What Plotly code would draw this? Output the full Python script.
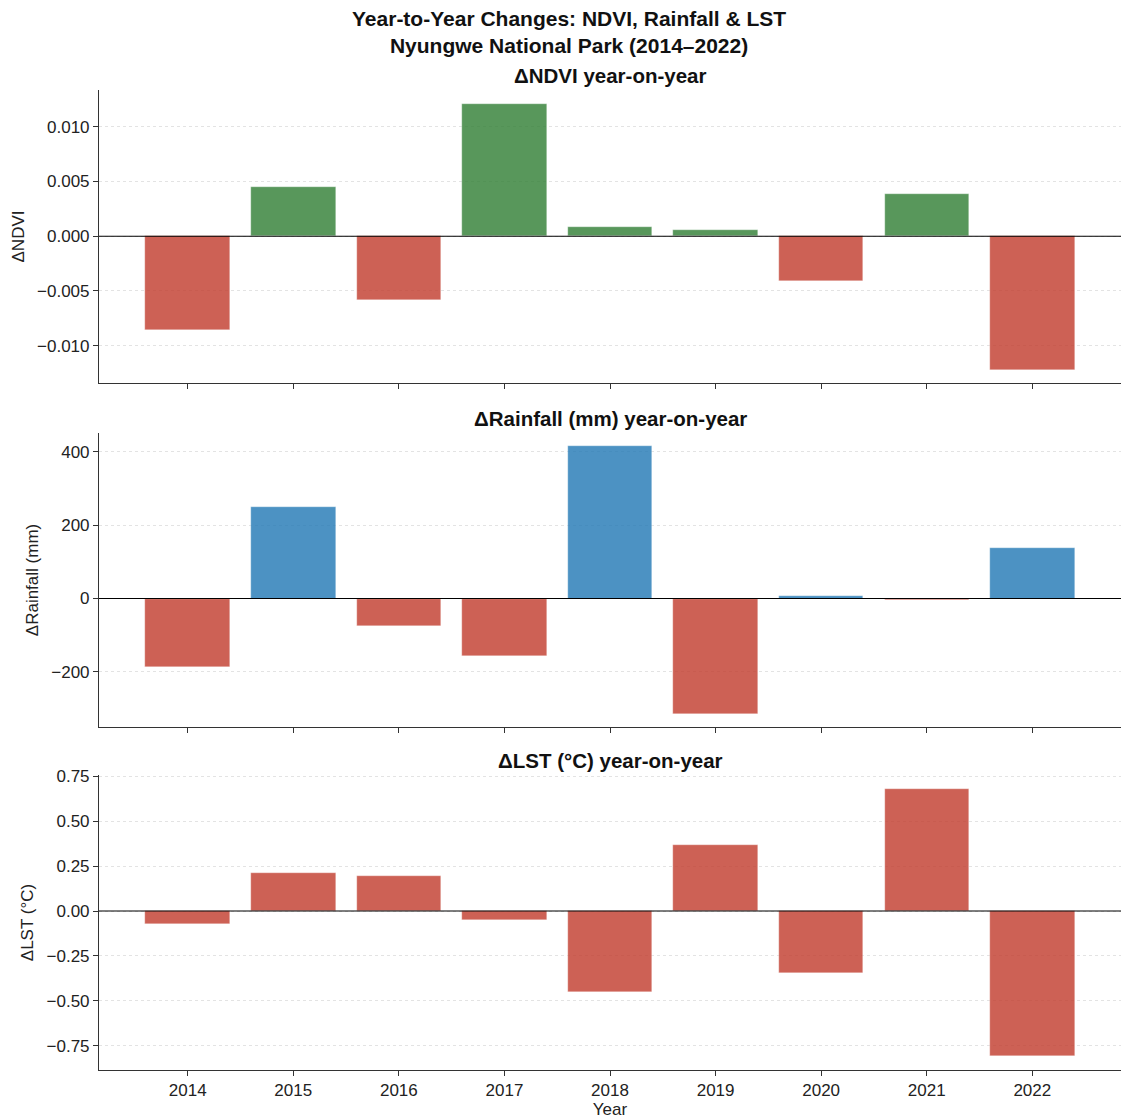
import plotly.graph_objects as go
from plotly.subplots import make_subplots

# Year-on-year differences for Nyungwe National Park
years = [2014, 2015, 2016, 2017, 2018, 2019, 2020, 2021, 2022]
d_ndvi = [-0.0086, 0.0045, -0.0058, 0.0121, 0.0008, 0.0006, -0.0041, 0.0039, -0.0122]
d_rain = [-186, 250, -76, -156, 415, -314, 8, -4, 137]
d_lst = [-0.072, 0.211, 0.194, -0.050, -0.450, 0.367, -0.344, 0.678, -0.807]

ndvi_ticks = [-0.010, -0.005, 0.0, 0.005, 0.010]
rain_ticks = [-200, 0, 200, 400]
lst_ticks = [-0.75, -0.50, -0.25, 0.0, 0.25, 0.50, 0.75]

RED = "rgba(192,57,43,0.8)"
GREEN = "rgba(46,125,50,0.8)"
BLUE = "rgba(31,119,180,0.8)"

FONT = "Liberation Sans, Arial, Helvetica, sans-serif"


def fmt(v, spec):
    s = format(v, spec)
    if s.startswith("-"):
        s = "\u2212" + s[1:]
    if s in ("\u22120.000", "\u22120.00", "\u22120"):
        s = s[1:]
    return s


ndvi_colors = [GREEN if v >= 0 else RED for v in d_ndvi]
rain_colors = [BLUE if v >= 0 else RED for v in d_rain]
lst_colors = [RED for v in d_lst]

fig = make_subplots(rows=3, cols=1, shared_xaxes=False, vertical_spacing=0.05)

for row, vals, cols in [(1, d_ndvi, ndvi_colors), (2, d_rain, rain_colors), (3, d_lst, lst_colors)]:
    fig.add_trace(
        go.Bar(
            x=years, y=vals, width=0.8,
            marker=dict(color=cols, line=dict(color="rgba(255,255,255,0.6)", width=0.5)),
            showlegend=False, hoverinfo="x+y",
        ),
        row=row, col=1,
    )

# panel placement (paper coordinates)
domains = {1: [0.701, 1.0], 2: [0.35, 0.65], 3: [0.0, 0.301]}
yranges = {1: [-0.01342, 0.01336], 2: [-350.5, 451.5], 3: [-0.885, 0.757]}
ytitles = {1: "ΔNDVI", 2: "ΔRainfall (mm)", 3: "ΔLST (°C)"}
yticks = {1: (ndvi_ticks, ".3f"), 2: (rain_ticks, "d"), 3: (lst_ticks, ".2f")}
subtitles = {1: "ΔNDVI year-on-year", 2: "ΔRainfall (mm) year-on-year", 3: "ΔLST (°C) year-on-year"}

axis_common = dict(
    showline=True, linecolor="#333333", linewidth=1.1,
    ticks="outside", ticklen=5, tickwidth=1, tickcolor="#333333",
    tickfont=dict(family=FONT, size=17, color="#222222"),
    automargin=False, zeroline=False,
)

for r in (1, 2, 3):
    tv, spec = yticks[r]
    fig.update_yaxes(
        domain=domains[r], range=yranges[r],
        tickmode="array", tickvals=tv, ticktext=[fmt(v, spec) for v in tv],
        showgrid=True, gridcolor="#e3e3e3", gridwidth=0.8, griddash="dot",
        title=dict(text=ytitles[r], font=dict(family=FONT, size=17, color="#222222"), standoff=8),
        row=r, col=1, **axis_common,
    )
    fig.update_xaxes(
        range=[2013.16, 2022.84], tickvals=years,
        ticktext=[str(y) for y in years] if r == 3 else [""] * len(years),
        showgrid=False, row=r, col=1, **axis_common,
    )
    # zero reference line drawn above the bars
    xref = "x" if r == 1 else f"x{r}"
    yref = "y" if r == 1 else f"y{r}"
    fig.add_shape(
        type="line", xref=f"{xref} domain", yref=yref, x0=0, x1=1, y0=0, y1=0,
        line=dict(color="black", width=1.1), layer="above",
    )
    fig.add_annotation(
        text=f"<b>{subtitles[r]}</b>", xref="paper", yref="paper",
        x=0.5, y=domains[r][1], yshift=1, xanchor="center", yanchor="bottom",
        showarrow=False, font=dict(family=FONT, size=20.5, color="#111111"),
    )

fig.update_xaxes(title=dict(text="Year", font=dict(family=FONT, size=17, color="#222222"), standoff=2), row=3, col=1)

fig.add_annotation(
    text="<b>Year-to-Year Changes: NDVI, Rainfall &amp; LST<br>Nyungwe National Park (2014–2022)</b>",
    xref="paper", yref="paper", x=(569 - 99) / 1022, y=1.0, yshift=31, xanchor="center", yanchor="bottom",
    showarrow=False, font=dict(family=FONT, size=21, color="#111111"),
)

fig.update_layout(
    width=1121, height=1119,
    margin=dict(l=99, r=0, t=90, b=49),
    paper_bgcolor="white", plot_bgcolor="white",
    font=dict(family=FONT),
    bargap=0,
)

fig.write_html("out.html")
